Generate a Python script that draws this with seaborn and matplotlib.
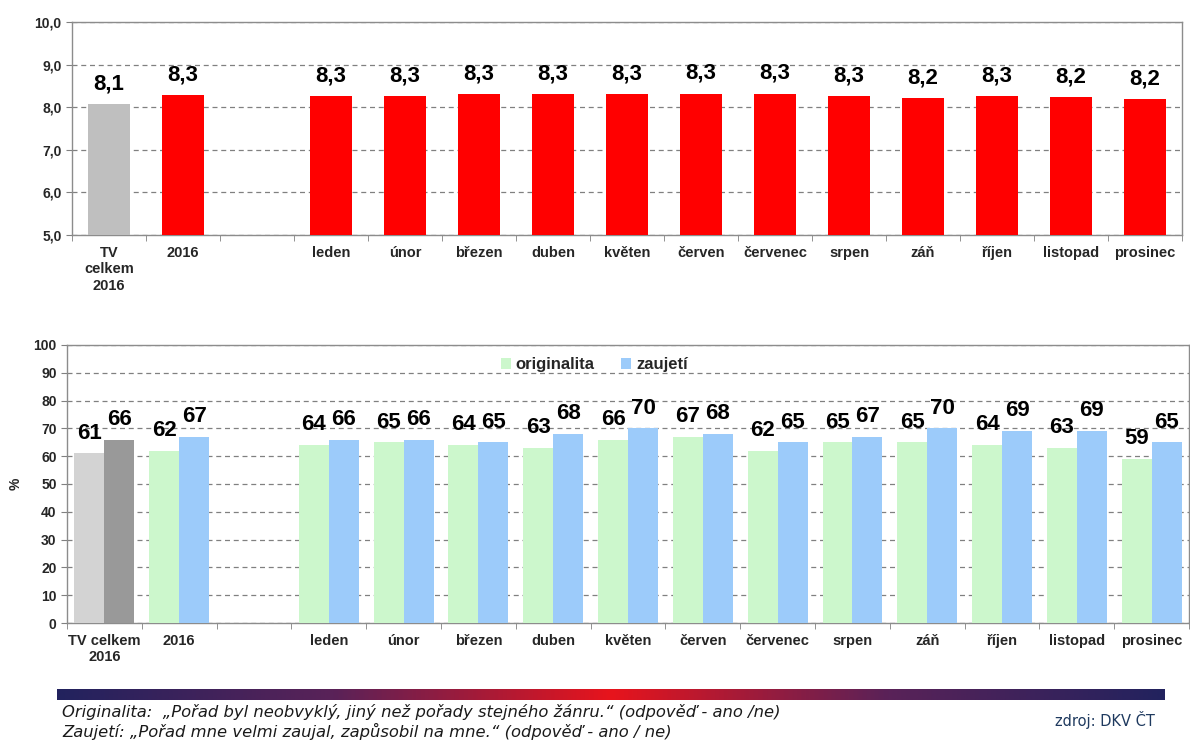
import numpy as np
import pandas as pd
import matplotlib
matplotlib.use('Agg')
import matplotlib.pyplot as plt
from matplotlib.colors import LinearSegmentedColormap
from matplotlib.ticker import FixedLocator
import seaborn as sns

# kategorie na ose x (prázdná mezera mezi 2016 a měsíci)
kategorie = ['TV celkem 2016', '2016', ' ', 'leden', 'únor', 'březen', 'duben', 'květen',
             'červen', 'červenec', 'srpen', 'září', 'říjen', 'listopad', 'prosinec']
popisky_horni = ['TV\ncelkem\n2016', '2016', '', 'leden', 'únor', 'březen', 'duben', 'květen',
                 'červen', 'červenec', 'srpen', 'záň', 'říjen', 'listopad', 'prosinec']
popisky_dolni = ['TV celkem\n2016', '2016', '', 'leden', 'únor', 'březen', 'duben', 'květen',
                 'červen', 'červenec', 'srpen', 'záň', 'říjen', 'listopad', 'prosinec']

# hodnocení (horní graf)
hodnoceni_kat = ['TV celkem 2016', '2016', 'leden', 'únor', 'březen', 'duben', 'květen',
                 'červen', 'červenec', 'srpen', 'září', 'říjen', 'listopad', 'prosinec']
hodnoceni = [8.08, 8.29, 8.27, 8.27, 8.30, 8.30, 8.30, 8.32, 8.32, 8.27, 8.21, 8.27, 8.24, 8.19]

# originalita a zaujetí (dolní graf)
originalita = [61, 62, 64, 65, 64, 63, 66, 67, 62, 65, 65, 64, 63, 59]
zaujeti = [66, 67, 66, 66, 65, 68, 70, 68, 65, 67, 70, 69, 69, 65]

sns.set_style('white')
plt.rcParams['font.family'] = ['Liberation Sans', 'DejaVu Sans']

fig = plt.figure(figsize=(11.9, 7.4), dpi=100)
ax1 = fig.add_axes([0.0605, 0.6824, 0.9328, 0.2878])
ax2 = fig.add_axes([0.0563, 0.1581, 0.9429, 0.3757])

grid_kw = dict(color='#808080', linestyle=(0, (4, 3)), linewidth=0.9)
text_col = '#262626'

# ---- horní graf ----
df1 = pd.DataFrame({'kategorie': hodnoceni_kat, 'hodnota': hodnoceni})
barvy1 = {k: ('#BFBFBF' if k == 'TV celkem 2016' else '#FF0000') for k in hodnoceni_kat}
sns.barplot(data=df1, x='kategorie', y='hodnota', hue='kategorie', order=kategorie,
            palette=barvy1, width=0.56, legend=False, saturation=1, linewidth=0,
            ax=ax1, zorder=3)
for c in ax1.containers:
    ax1.bar_label(c, labels=[f'{v:.1f}'.replace('.', ',') for v in c.datavalues],
                  padding=7, fontsize=16, fontweight='bold', color='black')
ax1.set_ylim(5, 10)
ax1.set_yticks(np.arange(5, 10.01, 1))
ax1.set_yticklabels([f'{v:.1f}'.replace('.', ',') for v in np.arange(5, 10.01, 1)])
ax1.set_xlim(-0.5, 14.5)

# ---- dolní graf ----
df2 = pd.DataFrame({
    'kategorie': hodnoceni_kat * 2,
    'serie': ['originalita'] * len(originalita) + ['zaujetí'] * len(zaujeti),
    'hodnota': originalita + zaujeti,
})
sns.barplot(data=df2, x='kategorie', y='hodnota', hue='serie', order=kategorie,
            palette={'originalita': '#CCF7CC', 'zaujetí': '#9CCBFA'}, width=0.8,
            saturation=1, linewidth=0, ax=ax2, zorder=3)
# TV celkem šedě
for c, col in zip(ax2.containers, ['#D3D3D3', '#999999']):
    p = min(c.patches, key=lambda r: r.get_x())
    p.set_facecolor(col)
    ax2.bar_label(c, labels=[f'{v:.0f}' for v in c.datavalues],
                  padding=7, fontsize=16, fontweight='bold', color='black')
ax2.set_ylim(0, 100)
ax2.set_yticks(np.arange(0, 101, 10))
ax2.set_xlim(-0.5, 14.5)
ax2.set_ylabel('%', fontsize=10, fontweight='bold', labelpad=8)
leg = ax2.legend(loc='upper center', bbox_to_anchor=(0.47, 1.01), ncol=2, frameon=False,
                 handlelength=0.6, handleheight=0.6, handletextpad=0.3, columnspacing=1.6,
                 prop={'weight': 'bold', 'size': 12})

for ax, popisky in [(ax1, popisky_horni), (ax2, popisky_dolni)]:
    ax.set_xlabel('')
    if ax is ax1:
        ax.set_ylabel('')
    ax.set_xticks(range(len(kategorie)))
    ax.set_xticklabels(popisky, fontsize=10.5, fontweight='bold', color=text_col)
    ax.xaxis.set_minor_locator(FixedLocator(np.arange(-0.5, 15, 1)))
    ax.tick_params(axis='x', which='major', length=0, pad=8)
    ax.tick_params(axis='x', which='minor', length=4, color='#808080', direction='out', bottom=True)
    ax.tick_params(axis='y', length=4, color='#808080', direction='out', left=True,
                   labelsize=10, labelcolor=text_col)
    for t in ax.get_yticklabels():
        t.set_fontweight('bold')
    ax.yaxis.grid(True, **grid_kw)
    ax.set_axisbelow(True)
    for s in ax.spines.values():
        s.set_visible(True)
        s.set_color('#8C8C8C')
        s.set_linewidth(1)

# ---- barevný pruh ----
axg = fig.add_axes([57 / 1190, 1 - 700 / 740, (1165 - 57) / 1190, 11 / 740])
cmap = LinearSegmentedColormap.from_list('pruh', ['#22225E', '#5A2258', '#E8141C', '#5A2258', '#22225E'])
axg.imshow(np.linspace(0, 1, 512).reshape(1, -1), aspect='auto', cmap=cmap)
axg.axis('off')

# ---- poznámky ----
fig.text(62 / 1190, 1 - 712 / 740, 'Originalita:  „Pořad byl neobvyklý, jiný než pořady stejného žánru.“ (odpověď - ano /ne)',
         fontsize=11.8, style='italic', color='#1a1a1a', va='center', family=['DejaVu Sans'])
fig.text(62 / 1190, 1 - 731 / 740, 'Zaujetí: „Pořad mne velmi zaujal, zapůsobil na mne.“ (odpověď - ano / ne)',
         fontsize=11.8, style='italic', color='#1a1a1a', va='center', family=['DejaVu Sans'])
fig.text(1155 / 1190, 1 - 720 / 740, 'zdroj: DKV ČT', fontsize=10.5, color='#1F3A5F',
         ha='right', va='center', family=['DejaVu Sans'])

fig.savefig('out.png', dpi=100)
